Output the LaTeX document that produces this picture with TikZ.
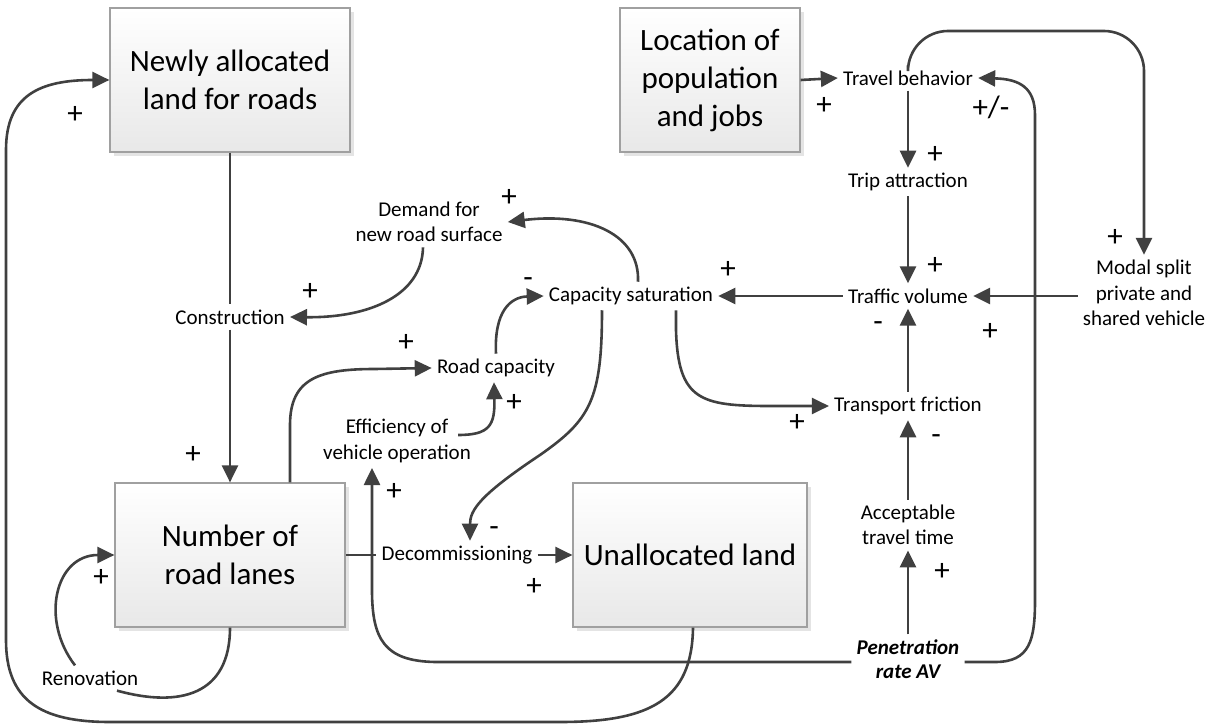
\documentclass[tikz,border=0pt]{standalone}
\usepackage{fontspec}
\setmainfont{Carlito}
\usepackage{xcolor}
\usepackage{tikz}
\usetikzlibrary{arrows.meta}
\usetikzlibrary{shadows}

\definecolor{linkgray}{HTML}{404040}
\definecolor{boxline}{HTML}{A0A0A0}

\begin{document}
\begin{tikzpicture}[
	x=1pt, y=-1pt,
	line width=2.6pt,
	font=\fontsize{21}{25.5}\selectfont
]
\tikzset{
    stocknode/.style = {rectangle, draw=boxline, line width=1.2pt, top color=white, bottom color=black!9, align=center,
      font=\fontsize{31}{38}\selectfont, drop shadow={shadow xshift=4pt, shadow yshift=-4pt, opacity=0.3, fill=black!35}},
		varnode/.style = {align=center, inner sep=4pt},
		signstyle/.style = {font=\fontsize{31}{31}\selectfont, inner sep=0pt},
		link/.style = {draw=linkgray, -{Triangle[length=17pt,width=16pt]}},
		plainlink/.style = {draw=linkgray}
}
\useasboundingbox (0,0) rectangle (1216,727);

% stocks
\node [stocknode, minimum width=240pt, minimum height=144pt] (newland) at (230,80) {Newly allocated\\land for roads};
\node [stocknode, minimum width=180pt, minimum height=144pt] (location) at (710,80) {Location of\\population\\and jobs};
\node [stocknode, minimum width=230pt, minimum height=144pt] (lanes) at (230,555) {Number of\\road lanes};
\node [stocknode, minimum width=234pt, minimum height=144pt] (unalloc) at (690,555) {Unallocated land};

% variables
\node [varnode] (travel) at (908,78) {Travel behavior};
\node [varnode] (trip) at (908,182) {Trip attraction};
\node [varnode] (traffic) at (908,296) {Traffic volume};
\node [varnode] (friction) at (908,406) {Transport friction};
\node [varnode] (accept) at (908,525) {Acceptable\\travel time};
\node [varnode, font=\fontsize{21}{24}\selectfont\bfseries\itshape] (pen) at (908,659) {Penetration\\rate AV};
\node [varnode] (modal) at (1144,293) {Modal split\\private and\\shared vehicle};
\node [varnode] (capsat) at (631,296) {Capacity saturation};
\node [varnode] (demand) at (429,222) {Demand for\\new road surface};
\node [varnode] (constr) at (230,317) {Construction};
\node [varnode] (roadcap) at (496,368) {Road capacity};
\node [varnode] (effic) at (397,441) {Efficiency of\\vehicle operation};
\node [varnode] (decom) at (457,555) {Decommissioning};
\node [varnode] (renov) at (90,678) {Renovation};
\coordinate (modaltop) at (1144,31);

% links
\draw [link] (location.east) -- (travel.west);
\draw [link] (travel.south) -- (trip.north);
\draw [link] (trip.south) -- (traffic.north);
\draw [link, rounded corners=40pt] (travel.north) |- (modaltop) -- (modal.north);
\draw [link] (modal.west |- traffic.east) -- (traffic.east);
\draw [link] (traffic.west) -- (capsat.east);
\draw [link] (friction.north) -- (traffic.south);
\draw [link] ([xshift=45pt]capsat.south) -- (676,330) .. controls (678,400) and (700,406) .. (770,406) -- (friction.west);
\draw [link] (accept.north) -- (friction.south);
\draw [link] (pen.north) -- (accept.south);
\draw [link] ([yshift=-3pt]pen.east) -- (995,662) .. controls (1030,662) and (1035,640) .. (1035,600) -- (1035,115) .. controls (1035,88) and (1020,79) .. (travel.east);
\draw [link] ([yshift=-3pt]pen.west) -- (435,662) .. controls (385,661) and (372,640) .. (372,590) -- ([xshift=-25pt]effic.south);
\draw [link] ([xshift=7pt]capsat.north) .. controls (640,235) and (590,212) .. (demand.east);
\draw [link] ([xshift=-6pt]demand.south) .. controls (422,295) and (370,318) .. (constr.east);
\draw [plainlink] (newland.south) -- (constr.north);
\draw [link] (constr.south) -- (lanes.north);
\draw [link] ([xshift=60pt]lanes.north) -- (290,425) .. controls (290,378) and (320,369) .. (375,369) -- (roadcap.west);
\draw [link] ([shift={(-18pt,6pt)}]effic.east) .. controls (490,435) and (495,425) .. ([xshift=-2pt]roadcap.south);
\draw [link] (roadcap.north) .. controls (494,312) and (510,297) .. (capsat.west);
\draw [link] ([xshift=-29pt]capsat.south) .. controls (602,400) and (590,420) .. (540,455) .. controls (480,495) and (470,510) .. ([xshift=13pt]decom.north);
\draw [plainlink] (lanes.east) -- (decom.west);
\draw [link] (decom.east) -- (unalloc.west);
\draw [plainlink] (lanes.south) .. controls (230,695) and (180,708) .. ([xshift=27pt]renov.south);
\draw [link] ([xshift=-15pt]renov.north) .. controls (40,620) and (55,555) .. (lanes.west);
\draw [link] ([xshift=3pt]unalloc.south) .. controls (692,700) and (650,722) .. (560,722) -- (110,722) .. controls (40,722) and (6,700) .. (6,640) -- (6,150) .. controls (6,95) and (40,80) .. (newland.west);

% polarities
\node [signstyle] (sLocTravel) at (824,106) {+};
\node [signstyle] (sTravelTrip) at (935,155) {+};
\node [signstyle] (sTripTraffic) at (935,266) {+};
\node [signstyle] (sTravelModal) at (1115,238) {+};
\node [signstyle] (sModalTraffic) at (990,332) {+};
\node [signstyle] (sTrafficCap) at (728,270) {+};
\node [signstyle] (sFricTraffic) at (878,327) {-};
\node [signstyle] (sCapFric) at (797,423) {+};
\node [signstyle] (sAccFric) at (936,440) {-};
\node [signstyle] (sPenAcc) at (942,572) {+};
\node [signstyle] (sPenTravel) at (991,107) {+/-};
\node [signstyle] (sPenEffic) at (394,492) {+};
\node [signstyle] (sCapDemand) at (509,198) {+};
\node [signstyle] (sDemandConstr) at (310,292) {+};
\node [signstyle] (sConstrLanes) at (193,455) {+};
\node [signstyle] (sLanesRoad) at (406,343) {+};
\node [signstyle] (sEfficRoad) at (514,403) {+};
\node [signstyle] (sRoadCap) at (528,283) {-};
\node [signstyle] (sCapDecom) at (494,532) {-};
\node [signstyle] (sDecomUnalloc) at (534,587) {+};
\node [signstyle] (sRenovLanes) at (101,578) {+};
\node [signstyle] (sUnallocNew) at (75,115) {+};
\end{tikzpicture}
\end{document}
